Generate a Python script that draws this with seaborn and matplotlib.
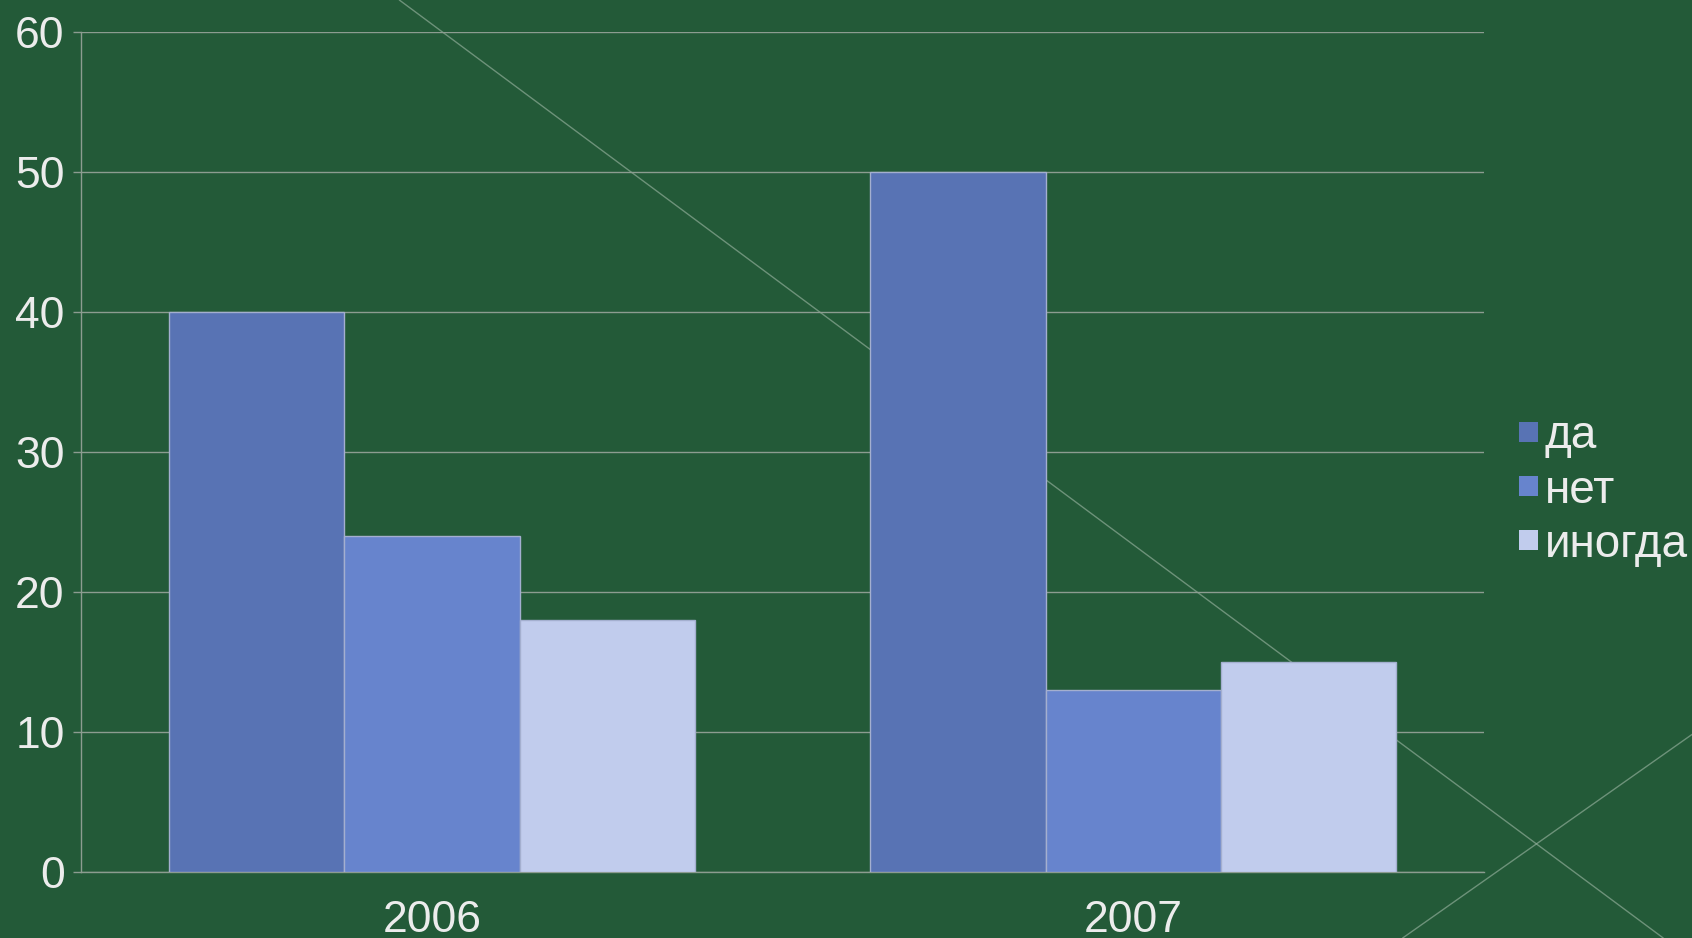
import pandas as pd
import numpy as np
import seaborn as sns
import matplotlib.pyplot as plt
from matplotlib.lines import Line2D
from matplotlib.patches import Patch

years = ['2006', '2007']
answers = ['да', 'нет', 'иногда']
da_values = [40, 50]
net_values = [24, 13]
inogda_values = [18, 15]
y_ticks = [0, 10, 20, 30, 40, 50, 60]

colors = ['#5873b4', '#6784cd', '#c1cced']
bg = '#235a38'
text_color = '#ececec'
grid_color = '#8c9c90'

rows = []
for series, vals in zip(answers, [da_values, net_values, inogda_values]):
    for yr, v in zip(years, vals):
        rows.append({'year': yr, 'answer': series, 'value': v})
data = pd.DataFrame(rows)

sns.set_theme(style='white')
plt.rcParams['font.family'] = ['Liberation Sans', 'DejaVu Sans']

fig = plt.figure(figsize=(16.92, 9.38), dpi=100)
fig.patch.set_facecolor(bg)
ax = fig.add_axes([0.048, 0.0704, 0.829, 0.8955])
ax.set_facecolor('none')

# faint slide decoration lines
fig.add_artist(Line2D([0.236, 0.983], [1.0, 0.0], transform=fig.transFigure,
                      color='#9fb8a6', lw=1, alpha=0.6, zorder=0))
fig.add_artist(Line2D([0.829, 1.0], [0.0, 0.217], transform=fig.transFigure,
                      color='#9fb8a6', lw=1, alpha=0.6, zorder=0))

ax.yaxis.grid(True, color=grid_color, lw=1)
ax.set_axisbelow(True)

sns.barplot(data=data, x='year', y='value', hue='answer', hue_order=answers,
            order=years, palette=colors, width=0.75, gap=0,
            edgecolor='#a4afcf', linewidth=1, saturation=1, ax=ax, zorder=3,
            legend=False)

ax.set_ylim(0, 60)
ax.set_xlim(-0.5, 1.5)
ax.set_yticks(y_ticks)
ax.set_xlabel('')
ax.set_ylabel('')

for side in ['top', 'right']:
    ax.spines[side].set_visible(False)
for side in ['left', 'bottom']:
    ax.spines[side].set_color(grid_color)
    ax.spines[side].set_linewidth(1)

ax.tick_params(axis='y', colors=grid_color, labelcolor=text_color,
               labelsize=32, length=6, width=1, pad=6, left=True)
ax.tick_params(axis='x', colors=grid_color, labelcolor=text_color,
               labelsize=32, length=0, pad=20)

handles = [Patch(facecolor=c, edgecolor='none') for c in colors]
leg = fig.legend(handles, answers, loc='center left',
                 bbox_to_anchor=(0.884, 0.477), frameon=False,
                 fontsize=33, handlelength=0.42, handleheight=0.3,
                 handletextpad=0.15, labelspacing=0.22, borderpad=0)
for t in leg.get_texts():
    t.set_color(text_color)

fig.savefig('out.png', dpi=100, facecolor=bg)
plt.close(fig)
